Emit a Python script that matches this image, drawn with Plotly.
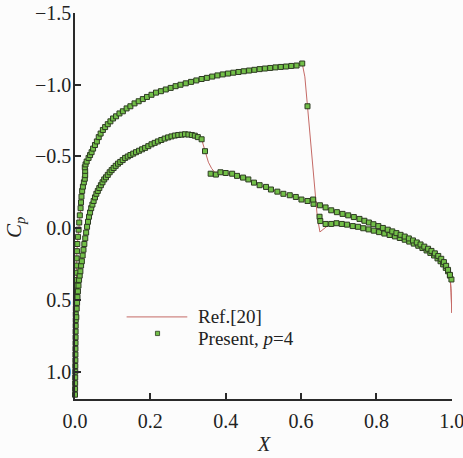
import plotly.graph_objects as go

# ---------------- data ----------------
# Present, p=4 : upper surface (markers)
upper_x = [0.0, 0.0002, 0.0004, 0.0005, 0.0007, 0.0008, 0.0010, 0.0011, 0.0012, 0.0014,
           0.0015, 0.0016, 0.0018, 0.0019, 0.0020, 0.0022, 0.0024, 0.0026, 0.0028, 0.0029,
           0.0030, 0.0034, 0.0038, 0.0045, 0.0052, 0.0062, 0.0078, 0.0095, 0.0112, 0.0128,
           0.0148, 0.0160, 0.0172, 0.0190, 0.0210, 0.0235, 0.0260, 0.0270, 0.0270, 0.0260,
           0.0280, 0.0310, 0.0360, 0.0400, 0.0440, 0.0480, 0.0530, 0.0580, 0.0630, 0.0680,
           0.074, 0.080, 0.087, 0.094, 0.101, 0.109, 0.118, 0.127, 0.137, 0.147,
           0.158, 0.169, 0.180, 0.191, 0.203, 0.215, 0.228, 0.241, 0.254, 0.267,
           0.280, 0.294, 0.308, 0.322, 0.336, 0.350, 0.364, 0.378, 0.392, 0.406,
           0.420, 0.434, 0.448, 0.462, 0.476, 0.490, 0.504, 0.518, 0.532, 0.546,
           0.560, 0.574, 0.588, 0.603, 0.617, 0.633, 0.649, 0.651, 0.665, 0.680,
           0.694, 0.708, 0.722, 0.737, 0.751, 0.765, 0.779, 0.793, 0.807, 0.821,
           0.835, 0.849, 0.862, 0.875, 0.887, 0.899, 0.911, 0.922, 0.933, 0.943,
           0.953, 0.962, 0.970, 0.977, 0.984, 0.990, 0.995, 0.999]
upper_cp = [1.16, 1.12, 1.08, 1.04, 1.00, 0.96, 0.92, 0.88, 0.84, 0.80,
            0.76, 0.72, 0.68, 0.64, 0.60, 0.56, 0.52, 0.48, 0.44, 0.40,
            0.36, 0.31, 0.26, 0.21, 0.16, 0.11, 0.06, 0.01, -0.04, -0.09,
            -0.14, -0.18, -0.22, -0.26, -0.29, -0.32, -0.345, -0.37, -0.40, -0.425,
            -0.445, -0.465, -0.49, -0.51, -0.53, -0.555, -0.58, -0.605, -0.635, -0.66,
            -0.685, -0.705, -0.725, -0.745, -0.765, -0.78, -0.80, -0.815, -0.835, -0.85,
            -0.87, -0.885, -0.90, -0.915, -0.93, -0.945, -0.955, -0.967, -0.978, -0.99,
            -1.0, -1.01, -1.02, -1.03, -1.04, -1.048, -1.057, -1.065, -1.072, -1.078,
            -1.084, -1.089, -1.094, -1.099, -1.104, -1.109, -1.113, -1.117, -1.121, -1.124,
            -1.127, -1.131, -1.134, -1.148, -0.85, -0.17, -0.08, -0.05, -0.03, -0.03,
            -0.035, -0.03, -0.025, -0.015, -0.01, 0.0, 0.008, 0.017, 0.027, 0.037,
            0.047, 0.057, 0.068, 0.08, 0.093, 0.107, 0.122, 0.138, 0.155, 0.172,
            0.19, 0.21, 0.23, 0.252, 0.276, 0.30, 0.33, 0.357]

# Present, p=4 : lower surface (markers)
lower_x = [0.0035, 0.0045, 0.0055, 0.0066, 0.0078, 0.0092, 0.0108, 0.0125, 0.0143, 0.0162,
           0.0182, 0.0203, 0.0225, 0.0248, 0.0272, 0.0296, 0.0320, 0.0345, 0.0372, 0.0400,
           0.0430, 0.0462, 0.0495, 0.0530, 0.0567, 0.0605, 0.0645, 0.0687, 0.0730, 0.0775,
           0.0822, 0.0870, 0.0920, 0.0972, 0.1025, 0.1080, 0.1140, 0.1200, 0.1265, 0.1330,
           0.1400, 0.1470, 0.1545, 0.1620, 0.1700, 0.1780, 0.1860, 0.1945, 0.2030, 0.2115,
           0.2200, 0.2290, 0.2380, 0.2470, 0.2560, 0.2650, 0.2740, 0.2830, 0.2920, 0.3010,
           0.3100, 0.3180, 0.3260, 0.3360, 0.3450, 0.3600, 0.3740, 0.3860, 0.4000, 0.4170,
           0.4300, 0.4460, 0.4600, 0.4750, 0.4900, 0.5070, 0.5200, 0.5370, 0.5530, 0.5700,
           0.5860, 0.6010, 0.6170, 0.6320, 0.6500, 0.6650, 0.6800, 0.6950, 0.7100, 0.7250,
           0.7400, 0.7550, 0.7680, 0.7800, 0.7920, 0.8050, 0.8170, 0.8300, 0.8420, 0.8530,
           0.8640, 0.8750, 0.8860, 0.8970, 0.9070, 0.9170, 0.9270, 0.9370, 0.9460, 0.9550,
           0.9640, 0.9720, 0.9790, 0.9850, 0.9900, 0.9950]
lower_cp = [0.62, 0.56, 0.52, 0.48, 0.44, 0.40, 0.36, 0.33, 0.30, 0.26,
            0.23, 0.19, 0.15, 0.11, 0.07, 0.03, -0.01, -0.045, -0.08, -0.11,
            -0.14, -0.165, -0.19, -0.215, -0.24, -0.26, -0.28, -0.30, -0.32, -0.34,
            -0.355, -0.372, -0.39, -0.405, -0.42, -0.435, -0.45, -0.462, -0.475, -0.49,
            -0.50, -0.51, -0.52, -0.53, -0.54, -0.55, -0.56, -0.572, -0.585, -0.595,
            -0.605, -0.615, -0.625, -0.633, -0.64, -0.646, -0.65, -0.652, -0.655, -0.653,
            -0.65, -0.645, -0.635, -0.62, -0.537, -0.38, -0.374, -0.39, -0.385, -0.38,
            -0.365, -0.353, -0.34, -0.318, -0.30, -0.288, -0.27, -0.255, -0.24, -0.23,
            -0.218, -0.20, -0.19, -0.20, -0.16, -0.145, -0.125, -0.112, -0.10, -0.09,
            -0.078, -0.065, -0.052, -0.04, -0.028, -0.015, -0.002, 0.01, 0.022, 0.034,
            0.046, 0.058, 0.071, 0.085, 0.099, 0.113, 0.128, 0.143, 0.158, 0.175,
            0.193, 0.213, 0.236, 0.262, 0.29, 0.325]

# Ref.[20] : upper surface (line)
ref_upper_x = [0.0, 0.001, 0.002, 0.003, 0.005, 0.008, 0.010, 0.015, 0.021, 0.026,
               0.027, 0.030, 0.036, 0.044, 0.053, 0.066, 0.093, 0.137, 0.180, 0.225,
               0.280, 0.350, 0.400, 0.455, 0.500, 0.544, 0.588, 0.603, 0.610, 0.617,
               0.623, 0.630, 0.637, 0.643, 0.650, 0.667, 0.680, 0.710, 0.765, 0.807,
               0.849, 0.887, 0.922, 0.953, 0.977, 0.990, 0.996, 0.998, 1.0]
ref_upper_cp = [1.16, 0.92, 0.60, 0.40, 0.16, 0.06, 0.0, -0.14, -0.29, -0.35,
                -0.40, -0.46, -0.49, -0.53, -0.58, -0.66, -0.755, -0.84, -0.905, -0.955,
                -1.0, -1.048, -1.076, -1.097, -1.11, -1.123, -1.134, -1.148, -1.055, -0.85,
                -0.66, -0.43, -0.24, -0.08, 0.026, -0.01, -0.03, -0.03, 0.0, 0.027,
                0.057, 0.093, 0.138, 0.19, 0.252, 0.30, 0.36, 0.45, 0.59]

# Ref.[20] : lower surface (line)
ref_lower_x = [0.002, 0.0066, 0.0108, 0.0162, 0.0225, 0.0296, 0.0372, 0.0462, 0.0567, 0.0687,
               0.0822, 0.0972, 0.1140, 0.1330, 0.1545, 0.1780, 0.2030, 0.2290, 0.2560, 0.2830,
               0.3010, 0.3180, 0.3360, 0.3450, 0.3540, 0.3630, 0.3710, 0.3860, 0.4000, 0.4300,
               0.4600, 0.4900, 0.5200, 0.5530, 0.5860, 0.6170, 0.6320, 0.6500, 0.6800, 0.7100,
               0.7400, 0.7800, 0.8170, 0.8530, 0.8860, 0.9170, 0.9460, 0.9720, 0.9850, 0.9950,
               0.9980, 1.0]
ref_lower_cp = [0.70, 0.48, 0.36, 0.26, 0.15, 0.03, -0.08, -0.165, -0.24, -0.30,
                -0.355, -0.405, -0.45, -0.49, -0.52, -0.55, -0.585, -0.615, -0.64, -0.652,
                -0.653, -0.645, -0.62, -0.54, -0.46, -0.415, -0.39, -0.39, -0.385, -0.365,
                -0.34, -0.30, -0.27, -0.24, -0.218, -0.19, -0.20, -0.16, -0.125, -0.10,
                -0.078, -0.04, -0.002, 0.034, 0.071, 0.113, 0.158, 0.213, 0.262, 0.325,
                0.42, 0.59]

legend_labels = ["Ref.[20]", "Present, <i>p</i>=4"]
x_ticks = [0.0, 0.2, 0.4, 0.6, 0.8, 1.0]
y_ticks = [-1.5, -1.0, -0.5, 0.0, 0.5, 1.0]

assert len(upper_x) == len(upper_cp)
assert len(lower_x) == len(lower_cp)
assert len(ref_upper_x) == len(ref_upper_cp)
assert len(ref_lower_x) == len(ref_lower_cp)

# ---------------- styles ----------------
SERIF = "Liberation Serif"
LINE_COLOR = "#c56a66"
MK_FILL = "#72bf48"
MK_EDGE = "#2d3b22"
AX = "#2a2a2a"

fig = go.Figure()
for xs, ys in [(ref_upper_x, ref_upper_cp), (ref_lower_x, ref_lower_cp)]:
    fig.add_trace(go.Scatter(x=xs, y=ys, mode="lines",
                             line=dict(color=LINE_COLOR, width=1),
                             showlegend=False, hoverinfo="skip"))
for xs, ys in [(upper_x, upper_cp), (lower_x, lower_cp)]:
    fig.add_trace(go.Scatter(x=xs, y=ys, mode="markers", cliponaxis=False,
                             marker=dict(symbol="square", size=5, color=MK_FILL,
                                         line=dict(color=MK_EDGE, width=1)),
                             showlegend=False, hoverinfo="skip"))

# manual legend (line sample, marker sample, labels)
fig.add_shape(type="line", xref="x", yref="y", x0=0.137, x1=0.298, y0=0.618, y1=0.618,
              line=dict(color=LINE_COLOR, width=1))
fig.add_shape(type="rect", xref="x", yref="y", x0=0.2135, x1=0.2245, y0=0.718, y1=0.748,
              fillcolor=MK_FILL, line=dict(color=MK_EDGE, width=0.8))
fig.add_annotation(x=0.321, y=0.612, xref="x", yref="y", text=legend_labels[0],
                   showarrow=False, xanchor="left", yanchor="middle",
                   font=dict(family=SERIF, size=19))
fig.add_annotation(x=0.321, y=0.765, xref="x", yref="y", text=legend_labels[1],
                   showarrow=False, xanchor="left", yanchor="middle",
                   font=dict(family=SERIF, size=19))

# axis titles
fig.add_annotation(x=0.5, y=0, xref="paper", yref="paper", yshift=-45,
                   text="<i>X</i>", showarrow=False, xanchor="center", yanchor="middle",
                   font=dict(family=SERIF, size=20))
fig.add_annotation(x=0, y=0.443, xref="paper", yref="paper", xshift=-60,
                   text="<i>C</i><sub><i>p</i></sub>", showarrow=False, textangle=-90,
                   xanchor="center", yanchor="middle",
                   font=dict(family=SERIF, size=21))

fig.update_layout(
    template="none",
    width=463, height=458,
    margin=dict(l=75, r=11, t=13, b=59),
    paper_bgcolor="#fcfcfc", plot_bgcolor="#fcfcfc",
    font=dict(family=SERIF, color="#222222"),
    showlegend=False,
)
fig.update_xaxes(range=[0, 1.0005], tickvals=x_ticks, tickformat=".1f",
                 ticks="inside", ticklen=6, tickwidth=1.5, tickcolor=AX,
                 showline=True, linecolor=AX, linewidth=1.5,
                 showgrid=False, zeroline=False, ticklabeloverflow="allow",
                 ticklabelstandoff=3,
                 tickfont=dict(family=SERIF, size=20))
fig.update_yaxes(range=[1.19, -1.5], tickvals=y_ticks, tickformat=".1f",
                 ticks="inside", ticklen=6, tickwidth=1.5, tickcolor=AX,
                 showline=True, linecolor=AX, linewidth=1.5,
                 showgrid=False, zeroline=False, ticklabeloverflow="allow",
                 ticklabelstandoff=-2,
                 tickfont=dict(family=SERIF, size=20))

fig.write_html("out.html")
